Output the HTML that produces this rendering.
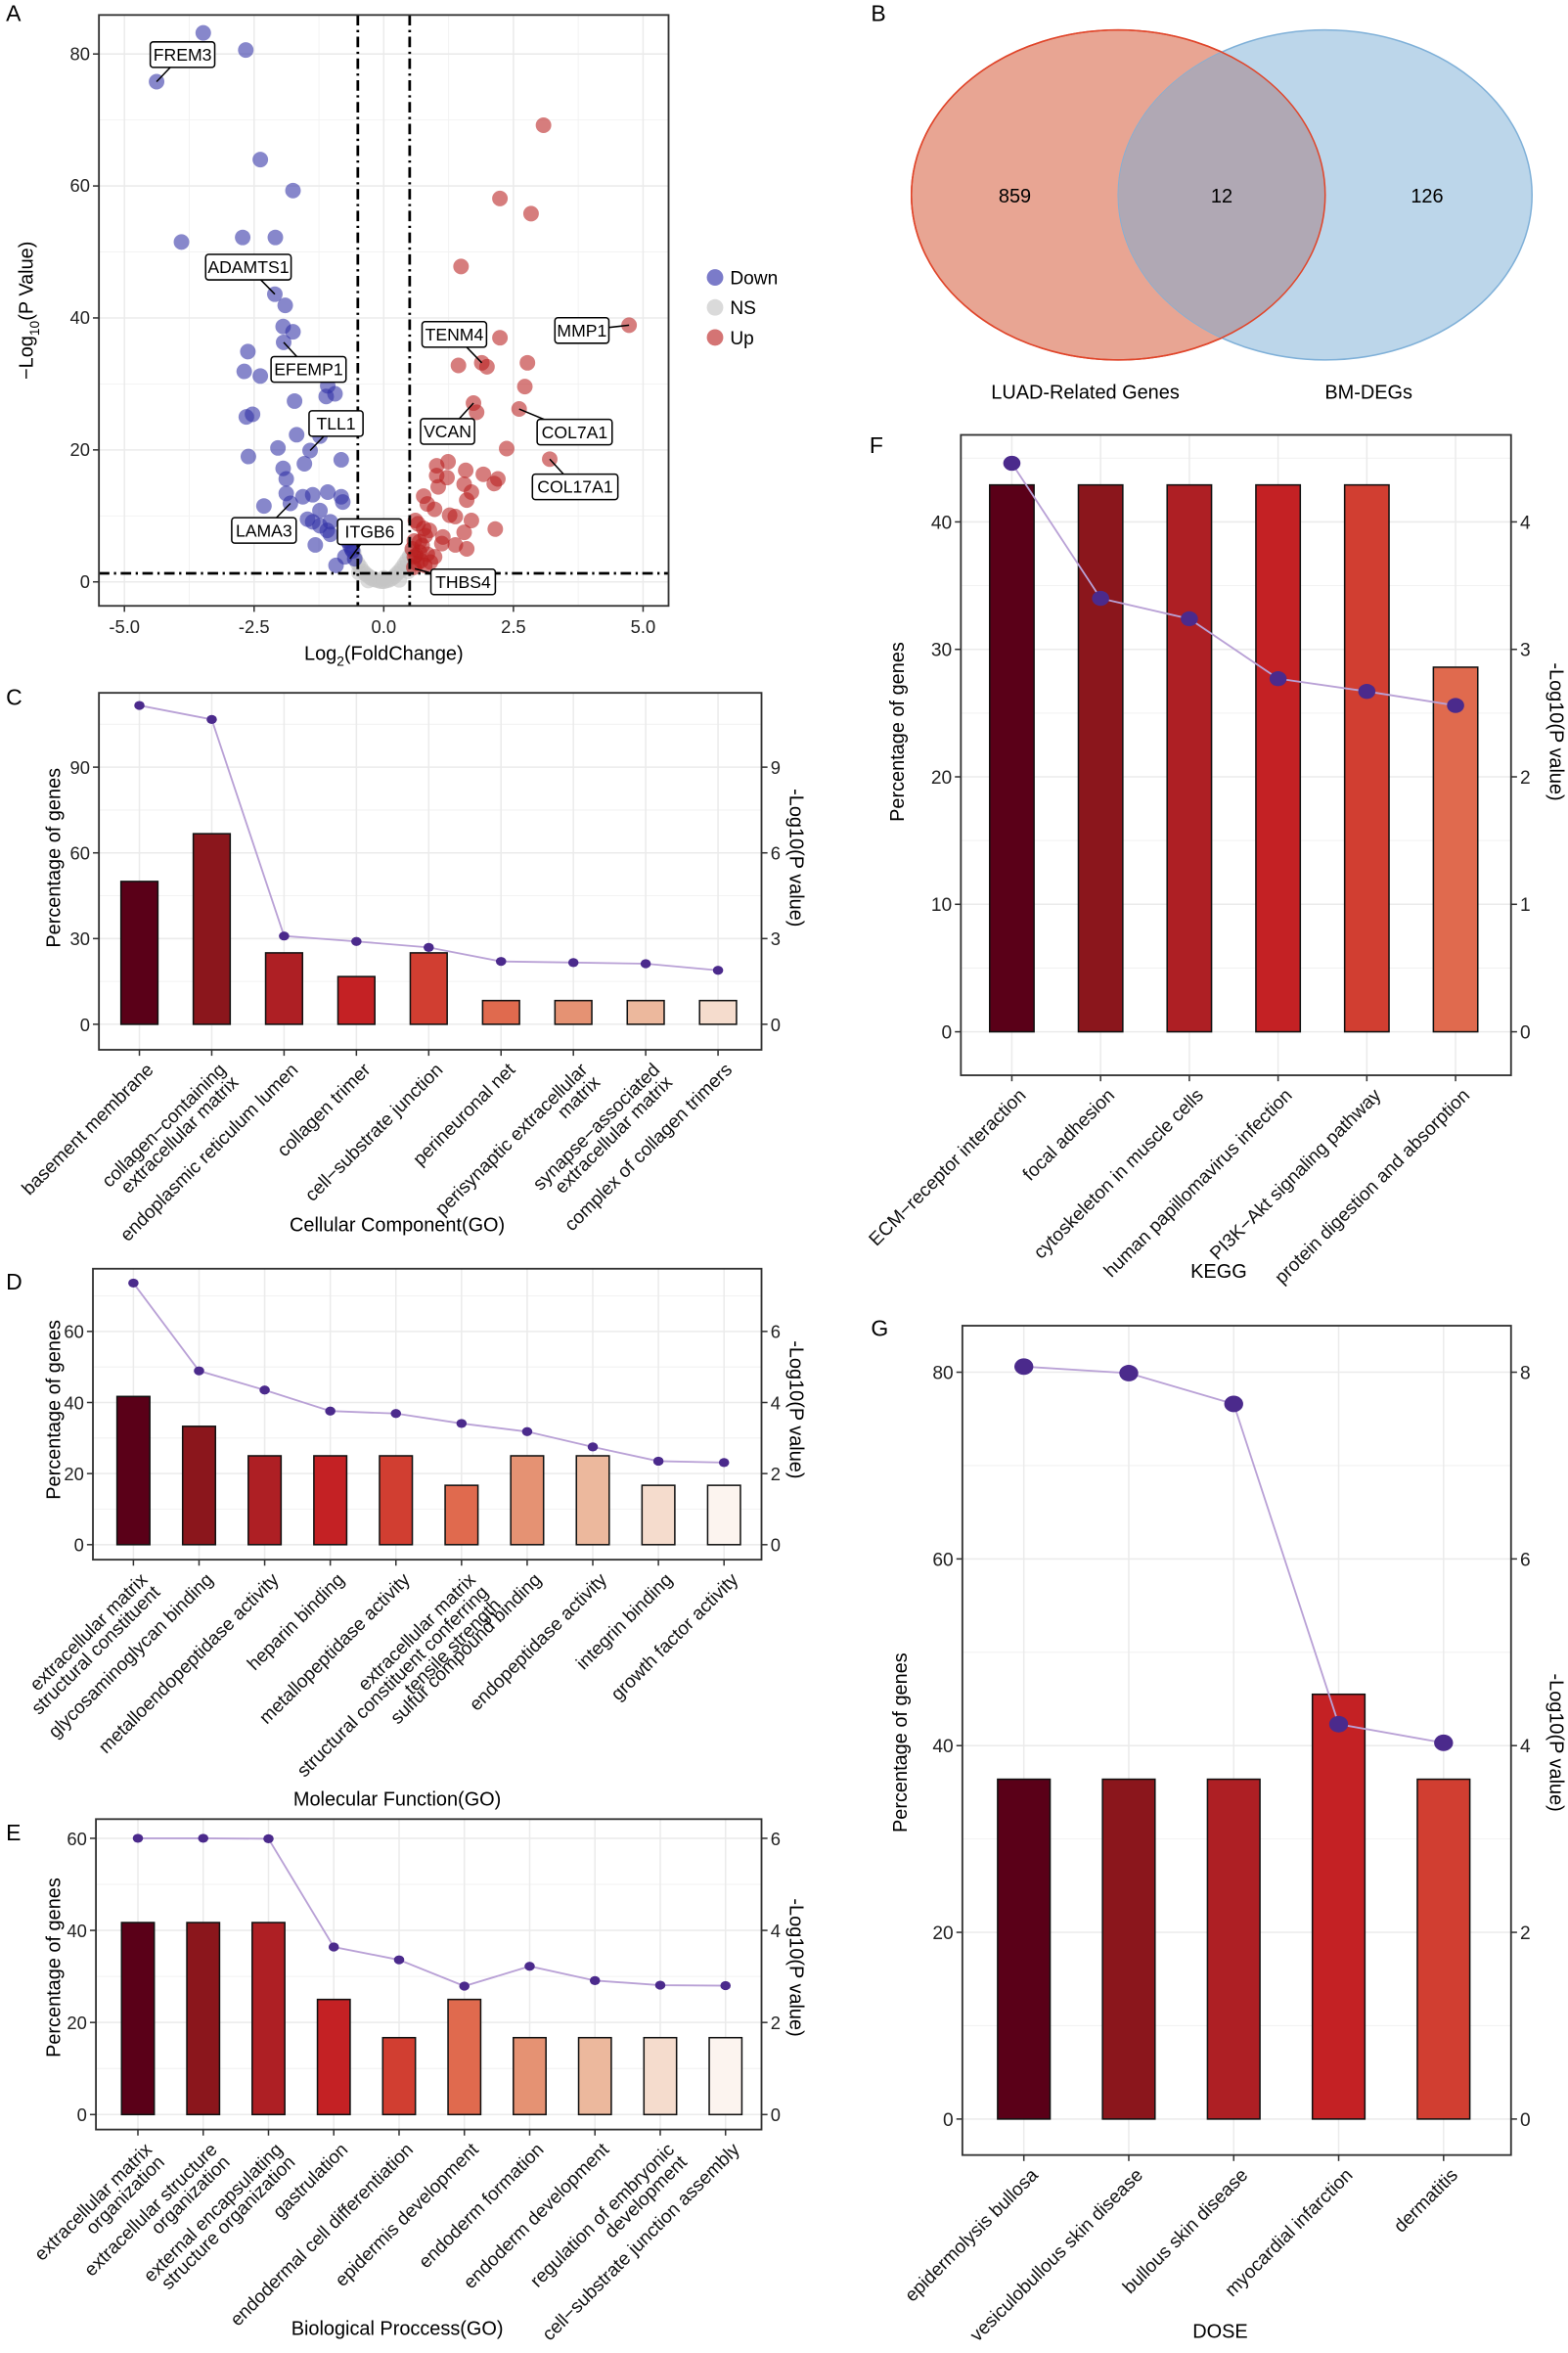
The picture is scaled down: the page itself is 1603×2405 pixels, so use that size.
<!DOCTYPE html>
<html><head><meta charset="utf-8"><style>
html,body{margin:0;padding:0;background:#fff;}
svg{display:block;font-family:"Liberation Sans",Arial,sans-serif;}
</style></head><body>
<svg id="fig" xmlns="http://www.w3.org/2000/svg" width="1603" height="2405" viewBox="0 0 1046 1569" preserveAspectRatio="none">
<defs>
<clipPath id="clipLeft"><ellipse cx="746" cy="130" rx="138" ry="110"/></clipPath>
</defs>
<g id="panelB">
<text x="581" y="14" font-size="15">B</text>
<ellipse cx="746" cy="130" rx="138" ry="110" fill="#e8a593" stroke="#e0452a" stroke-width="1"/>
<ellipse cx="884" cy="130" rx="138" ry="110" fill="#bcd6ea" stroke="#7fb0d8" stroke-width="1"/>
<ellipse cx="884" cy="130" rx="138" ry="110" fill="#b0a8b4" clip-path="url(#clipLeft)"/>
<ellipse cx="746" cy="130" rx="138" ry="110" fill="none" stroke="#e0452a" stroke-width="1"/>
<text x="677" y="135" font-size="13" text-anchor="middle">859</text>
<text x="815" y="135" font-size="13" text-anchor="middle">12</text>
<text x="952" y="135" font-size="13" text-anchor="middle">126</text>
<text x="724" y="266" font-size="13" text-anchor="middle">LUAD-Related Genes</text>
<text x="913" y="266" font-size="13" text-anchor="middle">BM-DEGs</text>
</g>
</svg>
<script>
// ---------- Volcano data (panel A) ----------
const downX=[-3.48,-2.66,-4.38,-2.38,-1.75,-3.9,-2.72,-2.09,-2.1,-1.9,-1.94,-1.75,-1.93,-2.62,-2.69,-2.38,-1.08,-1.11,-0.94,-1.72,-2.65,-2.53,-1.68,-1.23,-2.04,-1.42,-2.61,-0.82,-1.53,-1.94,-1.88,-1.08,-1.37,-1.56,-1.88,-0.82,-0.79,-1.8,-2.31,-1.23,-1.47,-1.37,-1.03,-1.23,-1.09,-1.03,-1.32,-0.65,-0.6,-0.75,-0.92,-0.56,-0.7,-0.62];
const downY=[83.2,80.6,75.8,64,59.3,51.5,52.2,52.2,43.6,41.9,38.7,37.9,36.3,34.9,31.9,31.2,29.7,28.1,28.5,27.4,25,25.4,22.3,22.1,20.3,19.9,19,18.5,17.9,17.2,15.6,13.6,13.2,12.9,13.4,12.9,12.1,11.9,11.5,10.8,9.5,9.1,9.1,8.5,7.8,7.2,5.6,5.5,4.7,3.8,2.5,3.5,6.2,5.0];
const upX=[3.08,2.24,2.84,1.49,4.73,2.24,2.77,1.44,1.89,1.99,2.72,1.73,1.79,2.61,2.37,3.2,1.02,1.24,1.58,1.92,2.2,2.13,1.02,1.22,1.05,1.55,1.69,1.6,0.77,0.84,0.98,1.27,1.38,1.69,0.61,0.77,0.88,1.14,1.55,2.15,1.12,1.6,1.38,0.59,0.74,0.69,0.59,0.84,0.98,0.64,0.79,0.69,0.55,0.62,0.72,0.8,0.9,0.58,0.66];
const upY=[69.2,58.1,55.8,47.8,38.9,37,33.2,32.8,33.2,32.6,29.6,27.1,25.7,26.2,20.2,18.6,17.6,18.2,16.9,16.3,15.6,14.9,16.1,15.8,14.4,14.8,13.6,12.4,13,11.8,11,10.1,9.9,9.3,9.3,8.1,7.8,6.8,7.5,8,5.8,5,5.6,6.2,5.5,4.5,3.8,4.2,3.8,2.8,2.5,6.1,5.0,4.0,3.2,7.0,3.0,2.2,8.8];
const nsX=[-0.58,-0.55,-0.5,-0.45,-0.4,-0.35,-0.3,-0.25,-0.2,-0.15,-0.1,-0.05,0,0.05,0.1,0.15,0.2,0.25,0.3,0.35,0.4,0.45,0.5,0.55,-0.48,0.47,-0.3,0.3,0];
const nsY=[4.5,3.6,2.8,2.2,1.6,1.2,0.9,0.6,0.4,0.3,0.2,0.1,0.1,0.2,0.3,0.5,0.8,1.2,1.6,2.1,2.7,3.3,3.9,4.6,1.4,1.6,0.2,0.3,0.6];
const labNames=["FREM3","ADAMTS1","EFEMP1","TLL1","LAMA3","ITGB6","TENM4","MMP1","VCAN","COL7A1","COL17A1","THBS4"];
const labBoxX=[-3.88,-2.61,-1.45,-0.92,-2.31,-0.27,1.36,3.82,1.23,3.68,3.69,1.53];
const labBoxY=[79.9,47.7,32.2,24,7.8,7.6,37.5,38.1,22.8,22.7,14.4,0];
const labPtX=[-4.38,-2.1,-1.93,-1.42,-1.8,-0.65,1.89,4.73,1.73,2.61,3.2,0.6];
const labPtY=[75.8,43.6,36.3,19.9,11.9,3.5,33.2,38.9,27.1,26.2,18.6,2];
const volXTicks=[-5,-2.5,0,2.5,5];
const volXTickLabels=["-5.0","-2.5","0.0","2.5","5.0"];
const volYTicks=[0,20,40,60,80];

// ---------- Panel C (Cellular Component) ----------
const ccCats=["basement membrane","collagen−containing|extracellular matrix","endoplasmic reticulum lumen","collagen trimer","cell−substrate junction","perineuronal net","perisynaptic extracellular|matrix","synapse−associated|extracellular matrix","complex of collagen trimers"];
const ccPct=[50,66.7,25,16.7,25,8.3,8.3,8.3,8.3];
const ccLogP=[11.16,10.67,3.09,2.9,2.69,2.2,2.16,2.12,1.89];
const ccLeftTicks=[0,30,60,90];
const ccRightTicks=[0,3,6,9];

// ---------- Panel D (Molecular Function) ----------
const mfCats=["extracellular matrix|structural constituent","glycosaminoglycan binding","metalloendopeptidase activity","heparin binding","metallopeptidase activity","extracellular matrix|structural constituent conferring|tensile strength","sulfur compound binding","endopeptidase activity","integrin binding","growth factor activity"];
const mfPct=[41.7,33.3,25,25,25,16.7,25,25,16.7,16.7];
const mfLogP=[7.36,4.89,4.35,3.76,3.69,3.41,3.18,2.75,2.35,2.31];
const mfLeftTicks=[0,20,40,60];
const mfRightTicks=[0,2,4,6];

// ---------- Panel E (Biological Process) ----------
const bpCats=["extracellular matrix|organization","extracellular structure|organization","external encapsulating|structure organization","gastrulation","endodermal cell differentiation","epidermis development","endoderm formation","endoderm development","regulation of embryonic|development","cell−substrate junction assembly"];
const bpPct=[41.7,41.7,41.7,25,16.7,25,16.7,16.7,16.7,16.7];
const bpLogP=[6.0,6.0,5.99,3.64,3.36,2.79,3.22,2.91,2.81,2.8];
const bpLeftTicks=[0,20,40,60];
const bpRightTicks=[0,2,4,6];

// ---------- Panel F (KEGG) ----------
const kgCats=["ECM−receptor interaction","focal adhesion","cytoskeleton in muscle cells","human papillomavirus infection","PI3K−Akt signaling pathway","protein digestion and absorption"];
const kgPct=[42.9,42.9,42.9,42.9,42.9,28.6];
const kgLogP=[4.46,3.4,3.24,2.77,2.67,2.56];
const kgLeftTicks=[0,10,20,30,40];
const kgRightTicks=[0,1,2,3,4];

// ---------- Panel G (DOSE) ----------
const dsCats=["epidermolysis bullosa","vesiculobullous skin disease","bullous skin disease","myocardial infarction","dermatitis"];
const dsPct=[36.4,36.4,36.4,45.5,36.4];
const dsLogP=[8.06,7.99,7.66,4.23,4.03];
const dsLeftTicks=[0,20,40,60,80];
const dsRightTicks=[0,2,4,6,8];

const PALETTE=["#5a0018","#8b161c","#ae1f24","#c42124","#d13e31","#e06a4e","#e59273","#ecb89d","#f5dccd","#fcf4ef"];
const NS="http://www.w3.org/2000/svg";
const svg=document.getElementById('fig');
function mk(tag,attrs,parent){const e=document.createElementNS(NS,tag);for(const k in attrs)e.setAttribute(k,attrs[k]);(parent||svg).appendChild(e);return e;}

// ================= Volcano =================
(function(){
  const g=mk('g',{});
  
  
  const L=66,R=446,T=10,B=404;
  const xs=v=>256+v*34.6, ys=v=>388-v*4.4;
  const lbl=mk('text',{x:4,y:14,'font-size':15},g);lbl.textContent='A';
  
  
  [-3.75,-1.25,1.25,3.75].forEach(v=>{const l=mk('line',{x1:xs(v),x2:xs(v),y1:T,y2:B,stroke:'#f2f2f2','stroke-width':0.6},g);
    
    });
  [10,30,50,70].forEach(v=>{const l=mk('line',{x1:L,x2:R,y1:ys(v),y2:ys(v),stroke:'#f2f2f2','stroke-width':0.6},g);
    
    });
  volXTicks.forEach((v,i)=>{
    const l=mk('line',{x1:xs(v),x2:xs(v),y1:T,y2:B,stroke:'#ebebeb','stroke-width':1},g);
    
    
    const tk=mk('line',{x1:xs(v),x2:xs(v),y1:B,y2:B+4,stroke:'#333'},g);
    
    
    const t=mk('text',{x:xs(v),y:B+18,'font-size':12,'text-anchor':'middle',fill:'#222'},g);t.textContent=volXTickLabels[i];
    
    
  });
  volYTicks.forEach(v=>{
    const l=mk('line',{x1:L,x2:R,y1:ys(v),y2:ys(v),stroke:'#ebebeb','stroke-width':1},g);
    
    
    const tk=mk('line',{x1:L-4,x2:L,y1:ys(v),y2:ys(v),stroke:'#333'},g);
    
    
    const t=mk('text',{x:L-6,y:ys(v)+4,'font-size':12,'text-anchor':'end',fill:'#222'},g);t.textContent=v;
    
    
  });
  nsX.forEach((x,i)=>{const c=mk('circle',{cx:xs(x),cy:ys(nsY[i]),r:5.2,fill:'#c4c4c4','fill-opacity':0.6},g);
    
    });
  downX.forEach((x,i)=>{const c=mk('circle',{cx:xs(x),cy:ys(downY[i]),r:5.2,fill:'#3030a6','fill-opacity':0.58},g);
    
    });
  upX.forEach((x,i)=>{const c=mk('circle',{cx:xs(x),cy:ys(upY[i]),r:5.2,fill:'#b81f1f','fill-opacity':0.58},g);
    
    });
  [-0.5,0.5].forEach(v=>{const l=mk('line',{x1:xs(v),x2:xs(v),y1:T,y2:B,stroke:'#000','stroke-width':1.8,'stroke-dasharray':'7 3 1.5 3'},g);
    
    });
  const hl=mk('line',{x1:L,x2:R,y1:ys(1.3),y2:ys(1.3),stroke:'#000','stroke-width':1.8,'stroke-dasharray':'7 3 1.5 3'},g);
  
  
  labNames.forEach((n,i)=>{
    const bx=xs(labBoxX[i]),by=ys(labBoxY[i]);
    const ln=mk('line',{x1:xs(labPtX[i]),y1:ys(labPtY[i]),x2:bx,y2:by,stroke:'#000','stroke-width':1},g);
    
    
    const w=n.length*7+8;
    const r=mk('rect',{x:bx-w/2,y:by-8.5,width:w,height:17,rx:2,fill:'#fff',stroke:'#000','stroke-width':1},g);
    
    
    const t=mk('text',{x:bx,y:by+4,'font-size':11.5,'text-anchor':'middle'},g);t.textContent=n;
    
    
  });
  const box=mk('rect',{x:L,y:T,width:R-L,height:B-T,fill:'none',stroke:'#333','stroke-width':1.2},g);
  
  
  const xt=mk('text',{x:256,y:440,'font-size':13,'text-anchor':'middle'},g);
  xt.innerHTML='Log<tspan font-size="9" dy="4">2</tspan><tspan dy="-4">(FoldChange)</tspan>';
  
  
  const yt=mk('text',{x:0,y:0,'font-size':13,'text-anchor':'middle',transform:'translate(22,207) rotate(-90)'},g);
  yt.innerHTML='−Log<tspan font-size="9" dy="4">10</tspan><tspan dy="-4">(P Value)</tspan>';
  
  
  [['Down','#7b7bc9',185],['NS','#dadada',205],['Up','#d47474',225]].forEach(a=>{
    const c=mk('circle',{cx:477,cy:a[2],r:5.5,fill:a[1]},g);
    
    
    const t=mk('text',{x:487,y:a[2]+4.5,'font-size':12.5},g);t.textContent=a[0];
    
    
  });
})();

// ================= Bar + line charts =================
function barChart(o,cats,pct,logp,lt,rt){
  const g=mk('g',{});
  
  
  const ys=v=>o.y0-v*o.ppu, ysR=v=>o.y0-v*o.ppu*o.ratio;
  const n=cats.length, x0=o.cx0, step=(o.cx1-o.cx0)/(n-1), xs=i=>x0+i*step;
  const bw=step*o.bwf;
  const pl=mk('text',{x:o.pl[0],y:o.pl[1],'font-size':15},g);pl.textContent=o.letter;
  
  
  for(let k=0;k<lt.length;k++){const mid=lt[k]+(lt[1]-lt[0])/2;if(ys(mid)>o.T){const l=mk('line',{x1:o.L,x2:o.R,y1:ys(mid),y2:ys(mid),stroke:'#f2f2f2','stroke-width':0.7},g);
    
    }}
  lt.forEach(v=>{
    const l=mk('line',{x1:o.L,x2:o.R,y1:ys(v),y2:ys(v),stroke:'#ebebeb','stroke-width':1},g);
    
    
    const tk=mk('line',{x1:o.L-4,x2:o.L,y1:ys(v),y2:ys(v),stroke:'#333'},g);
    
    
    const t=mk('text',{x:o.L-6,y:ys(v)+4.5,'font-size':o.tfs,'text-anchor':'end',fill:'#222'},g);t.textContent=v;
    
    
  });
  rt.forEach(v=>{
    const tk=mk('line',{x1:o.R,x2:o.R+4,y1:ysR(v),y2:ysR(v),stroke:'#333'},g);
    
    
    const t=mk('text',{x:o.R+6,y:ysR(v)+4.5,'font-size':o.tfs,fill:'#222'},g);t.textContent=v;
    
    
  });
  cats.forEach((c,i)=>{
    const l=mk('line',{x1:xs(i),x2:xs(i),y1:o.T,y2:o.B,stroke:'#ebebeb','stroke-width':1},g);
    
    
  });
  pct.forEach((v,i)=>{
    const r=mk('rect',{x:xs(i)-bw/2,y:ys(v),width:bw,height:ys(0)-ys(v),fill:PALETTE[i],stroke:'#111','stroke-width':1},g);
    
    
  });
  const pts=logp.map((v,i)=>xs(i)+','+ysR(v)).join(' ');
  const pll=mk('polyline',{points:pts,fill:'none',stroke:'#b9a1d6','stroke-width':1.2},g);
  
  
  logp.forEach((v,i)=>{
    const c=mk('ellipse',{cx:xs(i),cy:ysR(v),rx:o.dr*1.15,ry:o.dr,fill:'#4b2a8c'},g);
    
    
  });
  const box=mk('rect',{x:o.L,y:o.T,width:o.R-o.L,height:o.B-o.T,fill:'none',stroke:'#333','stroke-width':1.2},g);
  
  
  cats.forEach((c,i)=>{
    const tk=mk('line',{x1:xs(i),x2:xs(i),y1:o.B,y2:o.B+4,stroke:'#333'},g);
    
    
    const lines=c.split('|');
    const x=xs(i)+3,y=o.B+7;
    const t=mk('text',{x:x,y:y,'font-size':o.lfs,'text-anchor':'end',transform:'rotate(-45 '+x+' '+y+')',fill:'#111'},g);
    
    
    lines.forEach((ln,k)=>{const s=mk('tspan',{x:x,dy:(k===0?o.lfs*0.8:o.lfs*0.95)},t);s.textContent=ln;});
  });
  const xt=mk('text',{x:o.xt[0],y:o.xt[1],'font-size':13,'text-anchor':'middle'},g);xt.textContent=o.xtitle;
  
  
  const yl=mk('text',{x:0,y:0,'font-size':13,'text-anchor':'middle',transform:'translate('+o.ylt[0]+','+o.ylt[1]+') rotate(-90)'},g);yl.textContent='Percentage of genes';
  
  
  const yr=mk('text',{x:0,y:0,'font-size':13,'text-anchor':'middle',transform:'translate('+o.yrt[0]+','+o.yrt[1]+') rotate(90)'},g);yr.textContent='-Log10(P value)';
  
  
}

barChart({name:'cellular-component-chart',letter:'C',pl:[4,470],L:66,R:508,T:462,B:700,y0:683,ppu:1.905,ratio:10,cx0:93,cx1:479,bwf:0.51,dr:3,tfs:12,lfs:12.5,xt:[265,821],xtitle:'Cellular Component(GO)',ylt:[40,572],yrt:[527,572]},ccCats,ccPct,ccLogP,ccLeftTicks,ccRightTicks);
barChart({name:'molecular-function-chart',letter:'D',pl:[4,860],L:62,R:508,T:846,B:1040,y0:1030,ppu:2.37,ratio:10,cx0:89,cx1:483,bwf:0.5,dr:3,tfs:12,lfs:12.5,xt:[265,1204],xtitle:'Molecular Function(GO)',ylt:[40,940],yrt:[527,940]},mfCats,mfPct,mfLogP,mfLeftTicks,mfRightTicks);
barChart({name:'biological-process-chart',letter:'E',pl:[4,1227],L:64,R:508,T:1213,B:1420,y0:1410,ppu:3.07,ratio:10,cx0:92,cx1:484,bwf:0.5,dr:3,tfs:12,lfs:12.5,xt:[265,1557],xtitle:'Biological Proccess(GO)',ylt:[40,1312],yrt:[527,1312]},bpCats,bpPct,bpLogP,bpLeftTicks,bpRightTicks);
barChart({name:'kegg-chart',letter:'F',pl:[580,302],L:641,R:1008,T:290,B:717,y0:688,ppu:8.5,ratio:10,cx0:675,cx1:971,bwf:0.5,dr:5,tfs:12.5,lfs:12.5,xt:[813,852],xtitle:'KEGG',ylt:[603,488],yrt:[1034,488]},kgCats,kgPct,kgLogP,kgLeftTicks,kgRightTicks);
barChart({name:'dose-chart',letter:'G',pl:[581,891],L:642,R:1008,T:884,B:1437,y0:1413,ppu:6.225,ratio:10,cx0:683,cx1:963,bwf:0.5,dr:5.5,tfs:12.5,lfs:12.5,xt:[814,1559],xtitle:'DOSE',ylt:[605,1162],yrt:[1034,1162]},dsCats,dsPct,dsLogP,dsLeftTicks,dsRightTicks);
</script>
</body></html>
